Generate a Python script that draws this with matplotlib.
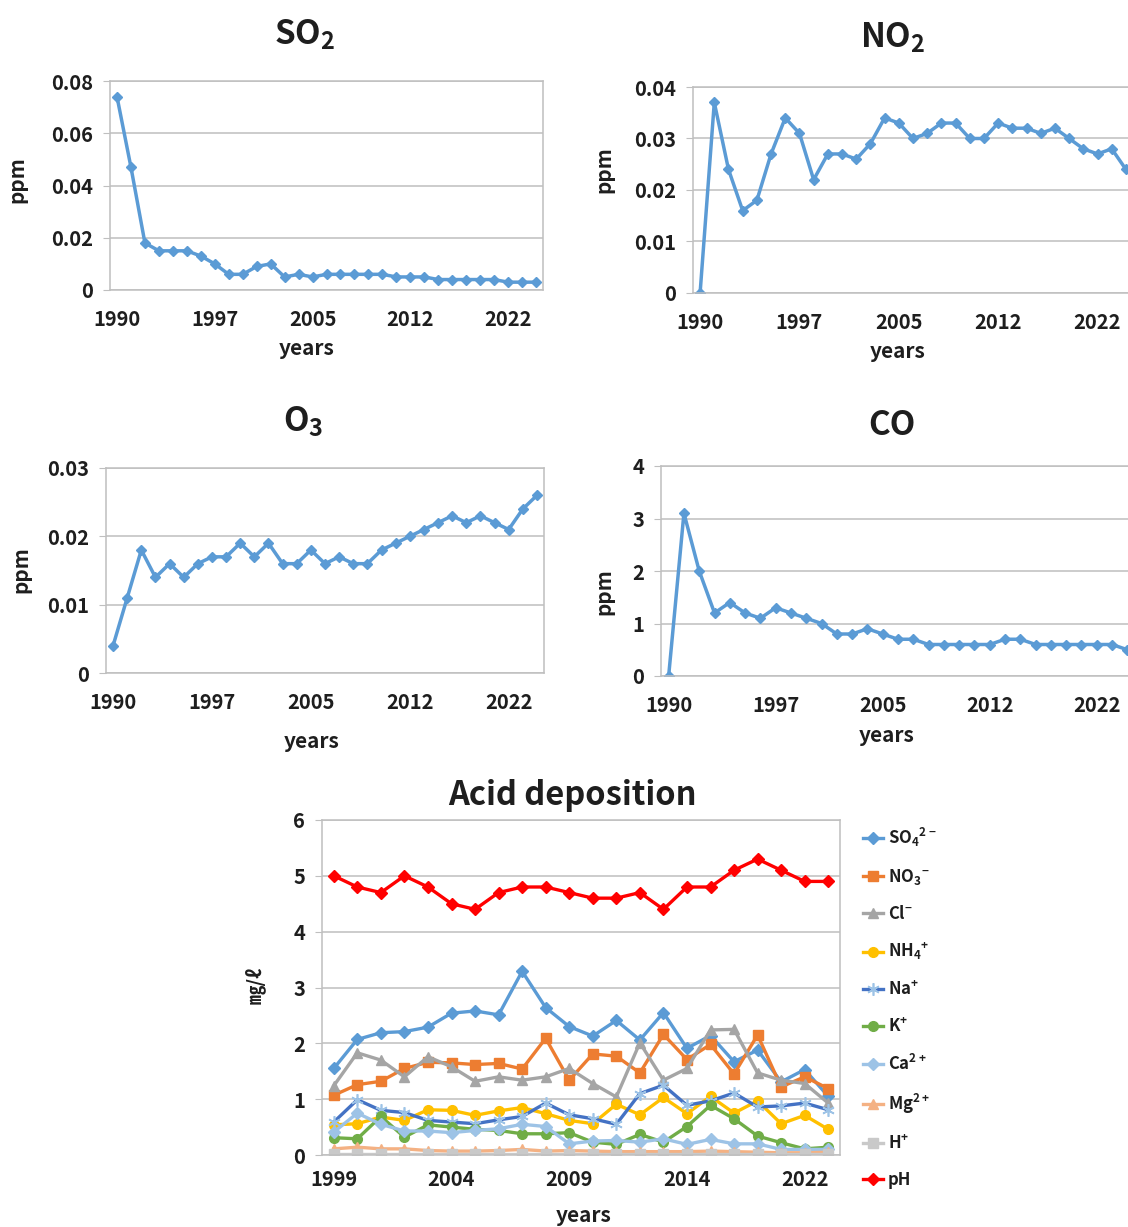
import numpy as np
import matplotlib
matplotlib.use('Agg')
import matplotlib.pyplot as plt
from matplotlib.ticker import FuncFormatter

plt.rcParams['font.family'] = ['Noto Sans CJK KR', 'DejaVu Sans']
plt.rcParams['font.weight'] = 'bold'
plt.rcParams['mathtext.fontset'] = 'custom'
plt.rcParams['mathtext.rm'] = 'Noto Sans CJK KR:bold'
plt.rcParams['mathtext.it'] = 'Noto Sans CJK KR:bold'
plt.rcParams['mathtext.bf'] = 'Noto Sans CJK KR:bold'

# top four panels: 31 observations, labelled every 7th
year_labels = ['1990', '1997', '2005', '2012', '2022']
so2 = [0.074, 0.047, 0.018, 0.015, 0.015, 0.015, 0.013, 0.010, 0.006, 0.006,
       0.009, 0.010, 0.005, 0.006, 0.005, 0.006, 0.006, 0.006, 0.006, 0.006,
       0.005, 0.005, 0.005, 0.004, 0.004, 0.004, 0.004, 0.004, 0.003, 0.003, 0.003]
no2 = [0.0, 0.037, 0.024, 0.016, 0.018, 0.027, 0.034, 0.031, 0.022, 0.027,
       0.027, 0.026, 0.029, 0.034, 0.033, 0.030, 0.031, 0.033, 0.033, 0.030,
       0.030, 0.033, 0.032, 0.032, 0.031, 0.032, 0.030, 0.028, 0.027, 0.028, 0.024]
o3 = [0.004, 0.011, 0.018, 0.014, 0.016, 0.014, 0.016, 0.017, 0.017, 0.019,
      0.017, 0.019, 0.016, 0.016, 0.018, 0.016, 0.017, 0.016, 0.016, 0.018,
      0.019, 0.020, 0.021, 0.022, 0.023, 0.022, 0.023, 0.022, 0.021, 0.024, 0.026]
co = [0.0, 3.1, 2.0, 1.2, 1.4, 1.2, 1.1, 1.3, 1.2, 1.1,
      1.0, 0.8, 0.8, 0.9, 0.8, 0.7, 0.7, 0.6, 0.6, 0.6,
      0.6, 0.6, 0.7, 0.7, 0.6, 0.6, 0.6, 0.6, 0.6, 0.6, 0.5]

# acid deposition: 22 observations, labelled every 5th
acid_labels = ['1999', '2004', '2009', '2014', '2022']
so4 = [1.55, 2.07, 2.19, 2.21, 2.29, 2.54, 2.58, 2.51, 3.29, 2.64, 2.30,
       2.13, 2.41, 2.06, 2.55, 1.91, 2.14, 1.67, 1.88, 1.31, 1.53, 1.05]
no3 = [1.07, 1.26, 1.32, 1.55, 1.66, 1.65, 1.62, 1.64, 1.54, 2.09, 1.34,
       1.81, 1.77, 1.47, 2.16, 1.71, 1.98, 1.45, 2.15, 1.22, 1.40, 1.19]
cl = [1.24, 1.83, 1.70, 1.40, 1.76, 1.58, 1.32, 1.40, 1.34, 1.40, 1.55,
      1.28, 1.04, 2.01, 1.34, 1.55, 2.24, 2.25, 1.47, 1.34, 1.28, 0.93]
nh4 = [0.54, 0.56, 0.68, 0.62, 0.81, 0.80, 0.71, 0.79, 0.85, 0.74, 0.62,
       0.56, 0.91, 0.72, 1.03, 0.74, 1.05, 0.75, 0.97, 0.56, 0.71, 0.46]
na = [0.59, 0.99, 0.80, 0.76, 0.62, 0.59, 0.56, 0.63, 0.69, 0.93, 0.72,
      0.65, 0.55, 1.10, 1.25, 0.89, 0.97, 1.11, 0.86, 0.88, 0.93, 0.81]
k = [0.31, 0.29, 0.69, 0.32, 0.54, 0.50, 0.46, 0.44, 0.38, 0.38, 0.40,
     0.23, 0.19, 0.37, 0.23, 0.51, 0.89, 0.65, 0.34, 0.22, 0.11, 0.14]
ca = [0.41, 0.75, 0.55, 0.43, 0.43, 0.40, 0.44, 0.47, 0.55, 0.51, 0.20,
      0.25, 0.26, 0.23, 0.29, 0.19, 0.28, 0.20, 0.20, 0.10, 0.10, 0.10]
mg = [0.11, 0.14, 0.11, 0.11, 0.08, 0.07, 0.07, 0.08, 0.10, 0.07, 0.08,
      0.07, 0.06, 0.06, 0.06, 0.06, 0.07, 0.06, 0.05, 0.04, 0.04, 0.05]
h = [0.02, 0.02, 0.02, 0.02, 0.02, 0.02, 0.02, 0.02, 0.02, 0.02, 0.02,
     0.02, 0.02, 0.02, 0.02, 0.02, 0.02, 0.02, 0.02, 0.02, 0.02, 0.02]
ph = [5.0, 4.8, 4.7, 5.0, 4.8, 4.5, 4.4, 4.7, 4.8, 4.8, 4.7,
      4.6, 4.6, 4.7, 4.4, 4.8, 4.8, 5.1, 5.3, 5.1, 4.9, 4.9]

W, H = 1128, 1227
fig = plt.figure(figsize=(W / 100, H / 100), dpi=100)

GRID = '#BFBFBF'
BLUE = '#5B9BD5'
TXT = '#1e1e1e'


def px_axes(left, top, right, bottom):
    return fig.add_axes([left / W, 1 - bottom / H, (right - left) / W, (bottom - top) / H])


def fmt(v, pos):
    if abs(v) < 1e-9:
        return '0'
    if v == int(v):
        return str(int(v))
    return f'{v:.2f}'


def style(ax, ymax, ystep, xpad):
    ax.set_ylim(0, ymax)
    ax.set_yticks(np.arange(0, ymax + ystep / 2, ystep))
    ax.yaxis.set_major_formatter(FuncFormatter(fmt))
    ax.grid(axis='y', color=GRID, lw=1.1)
    ax.set_axisbelow(True)
    for s in ax.spines.values():
        s.set_color(GRID)
        s.set_linewidth(1.1)
    ax.tick_params(axis='y', length=5, color=GRID, labelsize=14.5, pad=7, labelcolor=TXT)
    ax.tick_params(axis='x', length=0, labelsize=14.5, pad=xpad, labelcolor=TXT)


def small_panel(vals, left, top, right, bottom, ymax, ystep, title, tpos, ylpos, xlpos):
    ax = px_axes(left, top, right, bottom)
    x = np.arange(len(vals))
    ax.plot(x, vals, color=BLUE, lw=2.5, marker='D', ms=4.8, mec=BLUE, mfc=BLUE)
    ax.set_xlim(-0.5, len(vals) - 0.5)
    ax.set_xticks([0, 7, 14, 21, 28])
    ax.set_xticklabels(year_labels)
    style(ax, ymax, ystep, 14)
    fig.text(tpos[0] / W, 1 - tpos[1] / H, title, fontsize=24, ha='center', va='center', color=TXT)
    fig.text(ylpos[0] / W, 1 - ylpos[1] / H, 'ppm', fontsize=15, rotation=90,
             ha='center', va='center', color=TXT)
    fig.text(xlpos[0] / W, 1 - xlpos[1] / H, 'years', fontsize=15, ha='center', va='center', color=TXT)
    return ax


small_panel(so2, 110, 81, 543, 290, 0.08, 0.02, r'SO$_2$', (305, 35), (17, 180), (307, 349))
small_panel(no2, 693, 87, 1133, 293, 0.04, 0.01, r'NO$_2$', (893, 38), (604, 170), (898, 351))
small_panel(o3, 106, 468, 544, 673, 0.03, 0.01, r'O$_3$', (303, 422), (21, 570), (312, 741))
small_panel(co, 661, 466, 1135, 676, 4, 1, 'CO', (892, 426), (604, 592), (887, 735))

# acid deposition panel
ax = px_axes(322, 820, 840, 1155)
xa = np.arange(len(ph))
series = [
    (so4, r'SO$_4$$^{2-}$', '#5B9BD5', 'D', 6),
    (no3, r'NO$_3$$^{-}$', '#ED7D31', 's', 6.5),
    (cl, r'Cl$^{-}$', '#A5A5A5', '^', 7),
    (nh4, r'NH$_4$$^{+}$', '#FFC000', 'o', 7),
    (na, r'Na$^{+}$', '#4472C4', (6, 2, 0), 9),
    (k, r'K$^{+}$', '#70AD47', 'o', 7),
    (ca, r'Ca$^{2+}$', '#9DC3E6', 'D', 6),
    (mg, r'Mg$^{2+}$', '#F4B183', '^', 7),
    (h, r'H$^{+}$', '#C9C9C9', 's', 6.5),
    (ph, 'pH', '#FF0000', 'D', 6),
]
for vals, lab, col, mk, ms in series:
    if lab == r'Na$^{+}$':
        ax.plot(xa, vals, color=col, lw=2.4, marker=mk, ms=ms, mec='#9DC3E6', mew=1.2, label=lab)
    else:
        ax.plot(xa, vals, color=col, lw=2.4, marker=mk, ms=ms, mec=col, mfc=col, label=lab)
ax.set_xlim(-0.5, len(ph) - 0.5)
ax.set_xticks([0, 5, 10, 15, 20])
ax.set_xticklabels(acid_labels)
style(ax, 6, 1, 10)
fig.text(572 / W, 1 - 796 / H, 'Acid deposition', fontsize=23.5, ha='center', va='center', color=TXT)
fig.text(584 / W, 1 - 1215 / H, 'years', fontsize=15, ha='center', va='center', color=TXT)
fig.text(255 / W, 1 - 985 / H, '㎎/ℓ', fontsize=14, rotation=90, ha='center', va='center', color=TXT)
leg = ax.legend(loc='upper left', bbox_to_anchor=(856 / W, 1 - 819 / H), bbox_transform=fig.transFigure,
                frameon=False, fontsize=12, labelspacing=1.08, handlelength=1.2, handletextpad=0.3,
                borderaxespad=0)
for t in leg.get_texts():
    t.set_color(TXT)

fig.savefig('out.png', dpi=100)
